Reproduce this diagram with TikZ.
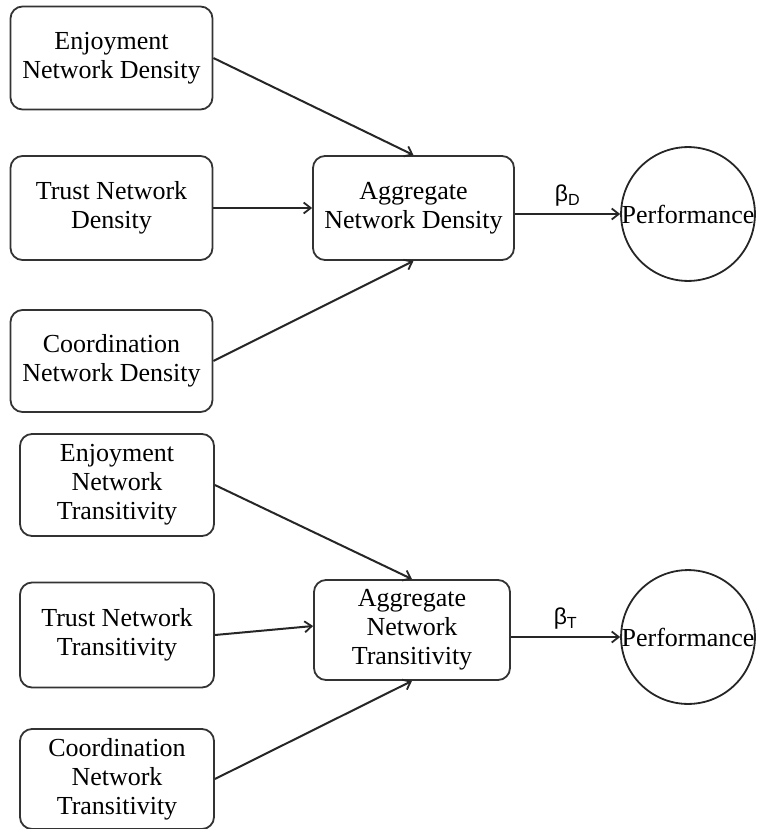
\documentclass[tikz,border=0pt]{standalone}
\usepackage{fontspec}
\setmainfont{Liberation Serif}
\newfontfamily\betafont{Liberation Sans}
\usetikzlibrary{arrows.meta}
\begin{document}
\begin{tikzpicture}[x=1pt,y=-1pt,
  box/.style={draw=black!80, line width=1.8pt, rounded corners=12pt, align=center,
    font=\fontsize{26}{29}\selectfont, inner sep=0pt},
  perf/.style={draw=black!85, line width=1.8pt, circle, inner sep=0pt, font=\fontsize{26}{29}\selectfont},
  arr/.style={draw=black!85, line width=2pt, -{Straight Barb[length=7pt,width=11pt,line width=1.8pt]}},
  blab/.style={font=\betafont\fontsize{23}{26}\selectfont}]
\useasboundingbox (0,0) rectangle (764,829);
% top group
\node[box, minimum width=202pt, minimum height=103pt] (ed) at (111.5,58) {Enjoyment\\Network Density};
\node[box, minimum width=202pt, minimum height=104pt] (td) at (111.5,208) {Trust Network\\Density};
\node[box, minimum width=202pt, minimum height=102pt] (cd) at (111.5,361) {Coordination\\Network Density};
\node[box, minimum width=201pt, minimum height=104pt] (ad) at (413.5,208) {Aggregate\\Network Density};
\node[perf, minimum size=124pt] (pd) at (688,214) {Performance};
\draw[arr] (ed.east) -- (ad.north);
\draw[arr] (td.east) -- (ad.west);
\draw[arr] (cd.east) -- (ad.south);
\draw[arr] (ad.east |- pd.west) -- (pd.west) node[blab, midway, above=3pt] {β\textsubscript{D}};
% bottom group
\node[box, minimum width=194pt, minimum height=102pt] (et) at (117,485) {Enjoyment\\Network\\Transitivity};
\node[box, minimum width=194pt, minimum height=105pt] (tt) at (117,635) {Trust Network\\Transitivity};
\node[box, minimum width=194pt, minimum height=100pt] (ct) at (117,779) {Coordination\\Network\\Transitivity};
\node[box, minimum width=196pt, minimum height=100pt] (at) at (412,630) {Aggregate\\Network\\Transitivity};
\node[perf, minimum size=128pt] (pt) at (688,637) {Performance};
\draw[arr] (et.east) -- (at.north);
\draw[arr] (tt.east) -- ([yshift=4pt]at.west);
\draw[arr] (ct.east) -- (at.south);
\draw[arr] (at.east |- pt.west) -- (pt.west) node[blab, midway, above=3pt] {β\textsubscript{T}};
\end{tikzpicture}
\end{document}
